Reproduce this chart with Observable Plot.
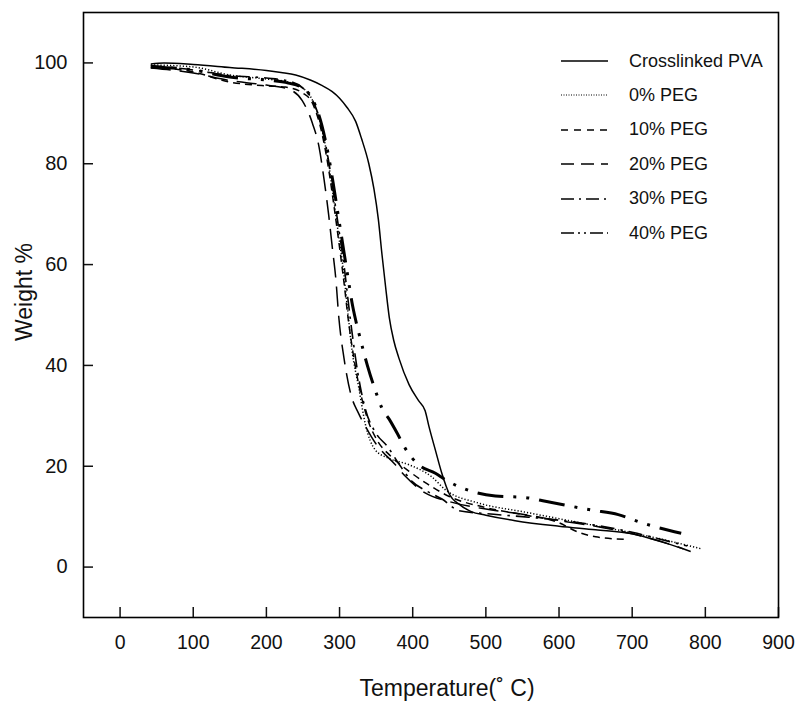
<!DOCTYPE html>
<html><head><meta charset="utf-8">
<script src="https://cdn.jsdelivr.net/npm/d3@7"></script>
<script src="https://cdn.jsdelivr.net/npm/@observablehq/plot@0.6"></script>
<style>
body{margin:0;background:#fff;font-family:"Liberation Sans",Arial,sans-serif;}
#wrap{position:relative;width:795px;height:704px;}
#wrap > svg{position:absolute;left:0;top:0;overflow:visible;}
.ytitle{position:absolute;left:24px;top:292px;font-size:23px;color:#111;white-space:nowrap;transform:translate(-50%,-50%) rotate(-90deg);}
.xtitle{position:absolute;left:447px;top:688px;font-size:23px;color:#111;white-space:nowrap;transform:translate(-50%,-50%);}
.legend{position:absolute;left:561px;top:0;}
.legend .row{position:absolute;left:0;height:20px;display:flex;align-items:center;white-space:nowrap;font-size:18px;color:#111;}
.legend .row svg{display:block;margin-right:21px;flex:none;}
</style></head><body><div id="wrap"></div>
<script>
// ---- data (Temperature °C, Weight %) ----
const seriesNames = ["Crosslinked PVA", "0% PEG", "10% PEG", "20% PEG", "30% PEG", "40% PEG"];
const crosslinkedPVA = [[42,99.8],[60,100],[100,99.7],[150,99.1],[200,98.5],[220,98.1],[240,97.6],[260,96.6],[275,95.6],[290,94.3],[300,93],[310,91.2],[322,88.4],[330,85],[340,80],[347,75],[353,69],[358,62],[363,55.5],[368,49.5],[374,45],[381,41.5],[395,36.2],[408,33],[417,31],[422,28],[431,23.2],[440,18.5],[450,14.5],[465,12.3],[480,11],[500,10.3],[540,9.2],[600,8.1],[650,7.4],[700,6.6],[740,5],[770,3.6]];
const peg0 = [[42,99.6],[100,99.2],[150,97.6],[200,96.8],[230,96.2],[250,95],[263,92.6],[276,86.8],[285,80],[292,73],[299,65.5],[306,58],[311,51],[317,43],[326,35.8],[335,28.5],[349,23.2],[367,21.6],[395,20.3],[426,17.9],[445,15.3],[490,12.7],[550,11],[600,9.6],[650,8.2],[700,6.8],[750,5.2],[795,3.6]];
const peg10 = [[42,99.2],[100,98.2],[150,96.2],[194,95.5],[226,95.2],[250,94],[263,92],[276,86],[285,79],[292,72],[299,64.5],[306,56.5],[312,49],[319,42],[328,35],[338,29.5],[352,25],[370,22],[395,19],[420,16.5],[450,14],[500,11.8],[550,10.4],[600,8.8],[625,7],[650,6],[690,5.5]];
const peg20 = [[42,99],[100,98],[150,96.5],[200,95.6],[230,94.8],[249,92.5],[263,88],[272,83.3],[279,76.7],[285,70],[290,63.5],[295,57],[299,49.5],[306,41.5],[315,34.5],[326,30.5],[335,28],[349,24.6],[358,23],[375,20.5],[390,18],[417,14.7],[450,13],[500,11.5],[550,10.5],[600,9.2],[650,8.1],[700,6.6],[750,4.6],[780,3.1]];
const peg30 = [[42,99.5],[100,98.6],[150,97.5],[200,97],[230,96.4],[250,95],[263,92.6],[276,87.2],[285,80.6],[292,74],[299,67],[306,60],[312,52.5],[318,45.5],[325,38.5],[335,31.5],[350,26.5],[365,24],[381,20.5],[399,17],[420,15],[440,13.5],[463,11.2],[500,10.6],[550,10],[600,9.3],[650,8.3],[700,6.9],[750,5.1],[775,4.2]];
const peg40 = [[42,99.2],[100,98.6],[150,97.2],[200,96.6],[230,96],[250,95],[263,92.8],[276,87.5],[285,81.5],[292,75.5],[299,69],[306,62.5],[312,57],[317,52.5],[322,49],[328,45.5],[338,40],[349,35],[358,31.5],[368,29.3],[379,26.5],[390,23.5],[408,20.3],[431,18.6],[445,17.3],[481,15],[513,14.1],[553,13.8],[590,12.8],[645,11.3],[681,10.4],[713,8.8],[731,8],[767,6.7]];
const seriesValues = [crosslinkedPVA, peg0, peg10, peg20, peg30, peg40];

const xTicks = [0,100,200,300,400,500,600,700,800,900];
const yTicks = [0,20,40,60,80,100];
const xTitle = "Temperature(˚ C)";
const yTitle = "Weight %";

// ---- styles ----
const lineStyles = [
  {dash: null, width: 1.5, legendDash: null},
  {dash: "1.2,2", width: 1.5, legendDash: "1,1.5"},
  {dash: "7,5", width: 1.5, legendDash: "7,6"},
  {dash: "20,9", width: 1.5, legendDash: "13,7"},
  {dash: "14,6,2.5,6", width: 1.6, legendDash: "13,5,2,5"},
  {dash: "26,10,3,10,3,10", width: 3, legendDash: "13,4,2,4,2,4"}
];

const rows = seriesNames.flatMap((name, i) => seriesValues[i].map(([t, w]) => ({series: name, t, w})));

const lineMarks = seriesNames.map((name, i) => Plot.line(rows.filter(r => r.series === name), {
  x: "t", y: "w", stroke: "black", strokeWidth: lineStyles[i].width,
  strokeDasharray: lineStyles[i].dash, curve: "monotone-x", strokeLinecap: "butt"
}));

const chart = Plot.plot({
  width: 795, height: 704,
  marginLeft: 83, marginRight: 17, marginTop: 12, marginBottom: 87,
  style: {fontFamily: "'Liberation Sans', Arial, sans-serif", color: "#111", background: "white", overflow: "visible"},
  x: {domain: [-50, 900]},
  y: {domain: [-10, 110]},
  marks: [
    ...lineMarks.slice().reverse(),
    Plot.axisX(xTicks, {tickSize: -10, tickPadding: 28, fontSize: 19.5, strokeWidth: 1.5, label: null}),
    Plot.axisY(yTicks, {tickSize: -10, tickPadding: 26, fontSize: 20, strokeWidth: 1.5, label: null}),
    Plot.frame({stroke: "black", strokeWidth: 1.6})
  ]
});

const wrap = document.getElementById("wrap");
wrap.appendChild(chart);

const yt = document.createElement("div"); yt.className = "ytitle"; yt.textContent = yTitle; wrap.appendChild(yt);
const xt = document.createElement("div"); xt.className = "xtitle"; xt.textContent = xTitle; wrap.appendChild(xt);

const legend = document.createElement("div"); legend.className = "legend";
seriesNames.forEach((name, i) => {
  const row = document.createElement("div"); row.className = "row";
  row.style.top = (61 + i * 34.4 - 10) + "px";
  const ns = "http://www.w3.org/2000/svg";
  const s = document.createElementNS(ns, "svg"); s.setAttribute("width", 47); s.setAttribute("height", 20);
  const l = document.createElementNS(ns, "line");
  l.setAttribute("x1", 0); l.setAttribute("x2", 47); l.setAttribute("y1", 10); l.setAttribute("y2", 10);
  l.setAttribute("stroke", "black"); l.setAttribute("stroke-width", i === 1 ? 1 : 1.6);
  if (lineStyles[i].legendDash) l.setAttribute("stroke-dasharray", lineStyles[i].legendDash);
  s.appendChild(l); row.appendChild(s);
  const t = document.createElement("span"); t.textContent = name; row.appendChild(t);
  legend.appendChild(row);
});
wrap.appendChild(legend);
</script></body></html>
